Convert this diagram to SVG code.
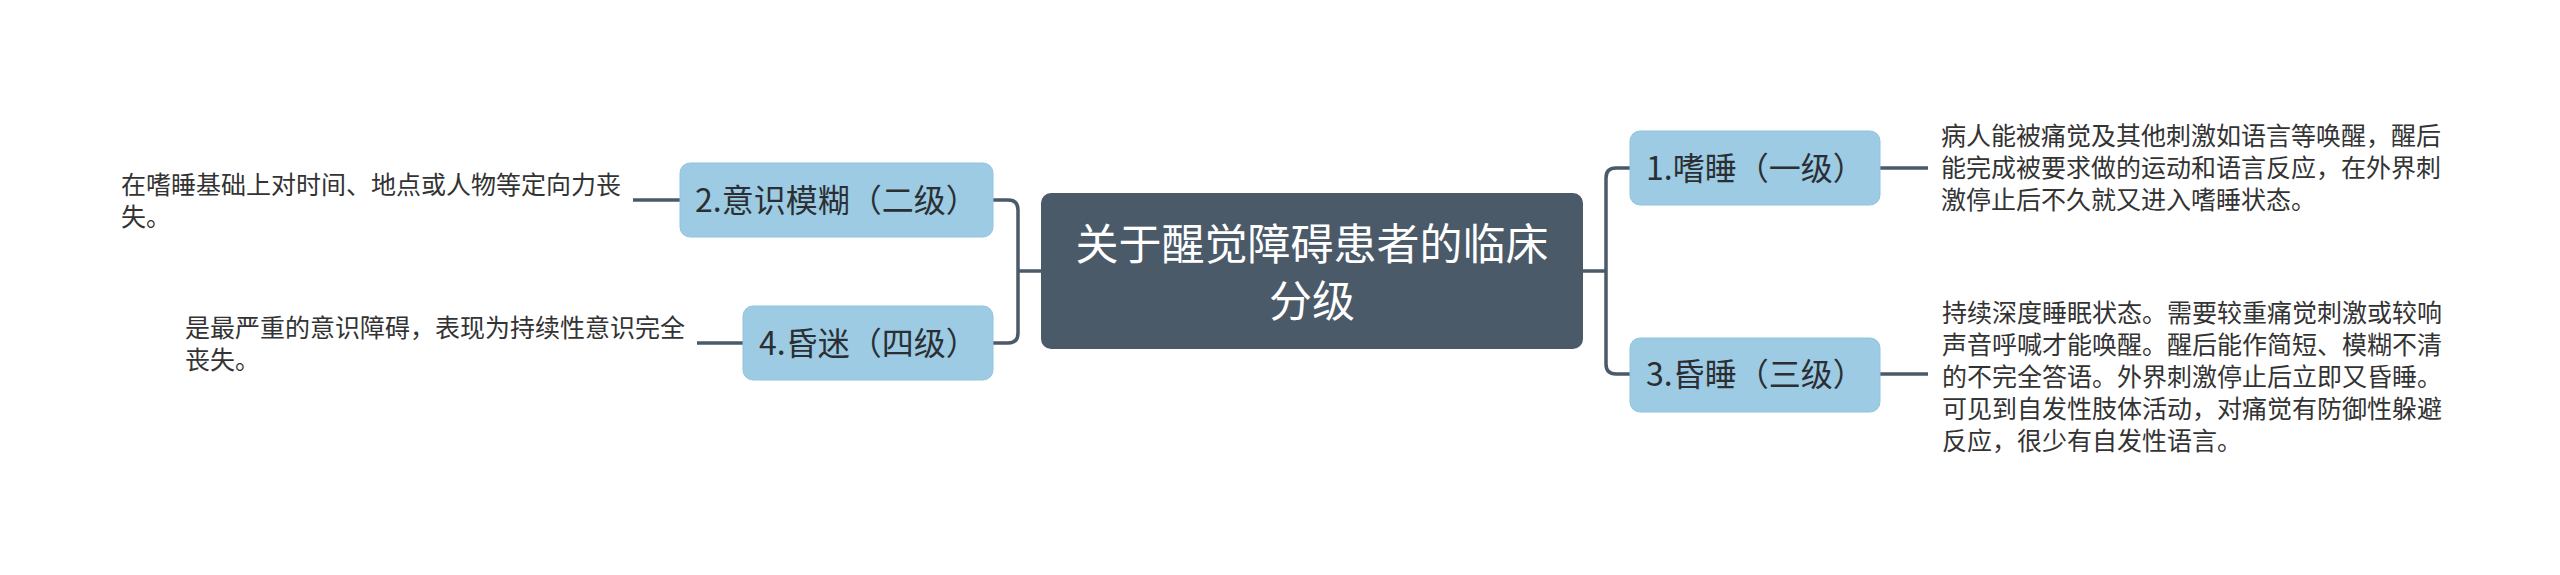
<svg xmlns="http://www.w3.org/2000/svg" width="2560" height="575" viewBox="0 0 2560 575">
<style>
.bg{fill:#ffffff}
.conn{fill:none;stroke:#4b5a69;stroke-width:3.5;stroke-linecap:butt;stroke-linejoin:round}
.root{fill:#4b5a69}
.sub{fill:#9ccbe3;stroke:#92c4de;stroke-width:1}
.rootText{font-family:"Noto Sans CJK SC","Noto Sans",sans-serif;font-size:43px;fill:#ffffff;text-anchor:middle}
.subText{font-family:"Noto Sans CJK SC","Noto Sans",sans-serif;font-size:32px;fill:#2b2f33}
.desc{font-family:"Noto Sans CJK SC","Noto Sans",sans-serif;font-size:25px;fill:#333333}
</style>
<rect class="bg" x="0" y="0" width="2560" height="575"/>
<g id="connectors">
  <path class="conn" d="M1583 271 H1606"/>
  <path class="conn" d="M1630 168 H1616 Q1606 168 1606 178 V364 Q1606 374 1616 374 H1630"/>
  <path class="conn" d="M1041 271 H1018"/>
  <path class="conn" d="M993 200 H1008 Q1018 200 1018 210 V333 Q1018 343 1008 343 H993"/>
  <path class="conn" d="M1880 168 H1928"/>
  <path class="conn" d="M1880 374 H1928"/>
  <path class="conn" d="M680 200 H633"/>
  <path class="conn" d="M743 343 H697"/>
</g>
<g id="root">
  <rect class="root" x="1041" y="193" width="542" height="156" rx="10"/>
  <text class="rootText" x="1312" y="260">关于醒觉障碍患者的临床</text>
  <text class="rootText" x="1312" y="316.5">分级</text>
</g>
<g id="node1">
  <rect class="sub" x="1630" y="131" width="250" height="74" rx="10"/>
  <text class="subText" x="1646" y="180">1.嗜睡（一级）</text>
</g>
<g id="node2">
  <rect class="sub" x="680" y="163" width="313" height="74" rx="10"/>
  <text class="subText" x="695" y="212">2.意识模糊（二级）</text>
</g>
<g id="node3">
  <rect class="sub" x="1630" y="338" width="250" height="74" rx="10"/>
  <text class="subText" x="1646" y="386">3.昏睡（三级）</text>
</g>
<g id="node4">
  <rect class="sub" x="743" y="306" width="250" height="74" rx="10"/>
  <text class="subText" x="759" y="355">4.昏迷（四级）</text>
</g>
<g id="desc1">
  <text class="desc" x="1941" y="145">病人能被痛觉及其他刺激如语言等唤醒，醒后</text>
  <text class="desc" x="1941" y="177">能完成被要求做的运动和语言反应，在外界刺</text>
  <text class="desc" x="1941" y="209">激停止后不久就又进入嗜睡状态。</text>
</g>
<g id="desc2">
  <text class="desc" x="121" y="193.5">在嗜睡基础上对时间、地点或人物等定向力丧</text>
  <text class="desc" x="121" y="225.5">失。</text>
</g>
<g id="desc3">
  <text class="desc" x="1942" y="322">持续深度睡眠状态。需要较重痛觉刺激或较响</text>
  <text class="desc" x="1942" y="354">声音呼喊才能唤醒。醒后能作简短、模糊不清</text>
  <text class="desc" x="1942" y="386">的不完全答语。外界刺激停止后立即又昏睡。</text>
  <text class="desc" x="1942" y="418">可见到自发性肢体活动，对痛觉有防御性躲避</text>
  <text class="desc" x="1942" y="450">反应，很少有自发性语言。</text>
</g>
<g id="desc4">
  <text class="desc" x="185" y="337">是最严重的意识障碍，表现为持续性意识完全</text>
  <text class="desc" x="185" y="369">丧失。</text>
</g>
</svg>
